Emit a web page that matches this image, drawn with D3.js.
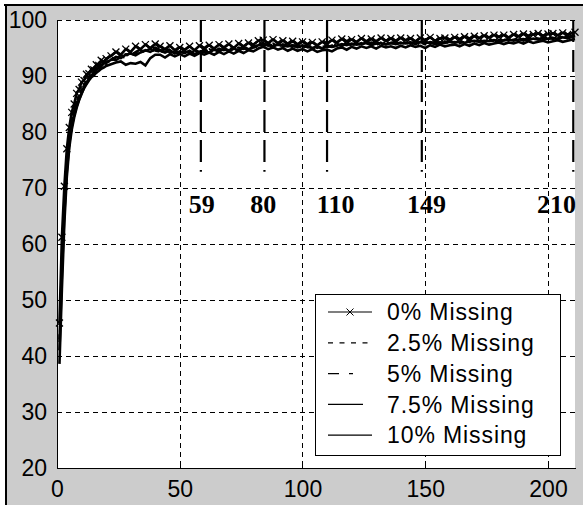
<!DOCTYPE html>
<html>
<head>
<meta charset="utf-8">
<script src="https://cdn.jsdelivr.net/npm/d3@7"></script>
<style>
  html, body { margin: 0; padding: 0; background: #fff; }
  svg { display: block; }
</style>
</head>
<body>
<div id="chart"></div>
<script>
// epochs (x) shared by every curve
const epochs = [
  1,2,3,4,5,6,7,8,9,10,
  11,12,13,14,15,16,17,18,19,20,
  22,24,26,28,30,32,34,36,38,40,
  42,44,46,48,50,52,54,56,58,60,
  62,64,66,68,70,72,74,76,78,80,
  82,84,86,88,90,92,94,96,98,100,
  102,104,106,108,110,112,114,116,118,120,
  122,124,126,128,130,132,134,136,138,140,
  142,144,146,148,150,152,154,156,158,160,
  162,164,166,168,170,172,174,176,178,180,
  182,184,186,188,190,192,194,196,198,200,
  202,204,206,208,211
];

const miss0 = [
  45.9,61.2,70.3,77.0,80.8,83.5,85.0,86.9,87.6,88.9,
  89.2,90.3,90.4,91.2,91.1,92.0,91.9,92.8,92.5,93.1,
  93.6,94.3,93.8,94.8,94.3,95.3,94.8,95.6,95.0,95.7,
  95.3,94.8,95.4,94.6,95.1,94.7,95.3,94.6,95.4,95.0,
  95.5,94.9,95.6,95.1,95.7,95.0,95.8,95.3,95.9,95.6,
  96.3,96.4,95.9,96.5,95.9,96.3,95.8,96.2,95.7,96.1,
  95.7,96.0,95.5,96.1,95.8,96.4,96.0,96.6,96.2,96.5,
  96.1,96.7,96.2,96.6,96.2,96.8,96.3,96.7,96.3,96.8,
  96.4,96.7,96.2,96.8,96.4,96.9,96.3,96.7,96.8,96.5,
  96.9,96.6,97.0,96.7,97.1,96.8,97.2,96.9,97.3,97.0,
  97.3,96.9,97.4,97.1,97.5,97.2,97.4,97.6,97.2,97.5,
  97.6,97.3,97.7,97.4,97.8
];
const miss25 = [
  43.0,57.5,67.8,74.6,79.0,82.0,84.1,85.3,86.8,87.6,
  88.5,89.1,89.9,90.2,90.8,91.0,91.6,91.7,92.2,92.3,
  92.8,93.1,93.7,93.5,94.2,94.0,94.6,94.4,94.9,94.5,
  94.3,94.8,94.1,94.6,93.9,94.4,94.0,94.6,94.2,94.7,
  94.4,94.9,94.5,95.0,94.6,95.1,94.7,95.2,94.8,95.0,
  95.6,95.3,95.8,95.4,95.7,95.2,95.6,95.1,95.5,95.0,
  95.4,94.9,95.3,95.0,95.4,95.1,95.6,95.3,95.8,95.5,
  95.9,95.6,96.0,95.7,95.5,96.0,95.7,96.1,95.8,96.0,
  95.7,96.1,95.8,96.0,95.6,96.1,95.9,95.7,96.2,95.9,
  96.1,95.8,96.3,96.0,96.2,96.4,96.1,96.5,96.2,96.4,
  96.6,96.3,96.5,96.7,96.4,96.8,96.5,96.7,96.6,96.9,
  96.6,96.9,97.0,96.7,97.2
];
const miss5 = [
  42.5,56.0,66.5,73.8,78.6,81.5,83.6,85.2,86.2,87.5,
  88.0,89.0,89.6,90.3,90.6,91.2,91.4,92.0,91.9,92.6,
  93.0,92.8,93.4,93.9,93.7,94.3,94.8,94.5,94.9,95.1,
  94.7,94.4,94.8,94.5,94.1,94.5,94.2,94.7,94.3,94.6,
  94.8,94.4,94.9,94.6,95.0,94.7,95.1,94.8,95.2,95.4,
  95.7,95.9,95.4,95.8,95.3,95.7,95.4,95.6,95.2,95.5,
  95.1,95.4,95.0,95.3,95.1,95.5,95.7,95.4,95.8,95.6,
  95.6,95.9,95.7,96.0,95.8,95.6,96.0,95.8,96.1,95.7,
  96.0,95.8,96.2,95.9,96.1,95.8,96.1,96.0,95.8,96.2,
  95.9,96.2,96.0,96.3,96.1,96.3,96.0,96.4,96.2,96.5,
  96.3,96.6,96.4,96.6,96.3,96.7,96.5,96.8,96.6,96.7,
  96.9,96.7,96.8,97.0,97.3
];
const miss75 = [
  41.0,54.8,65.5,73.0,77.9,81.0,83.0,84.6,85.8,86.9,
  87.8,88.5,89.2,89.8,90.1,90.6,90.9,91.3,91.5,91.8,
  92.1,92.4,92.6,92.0,92.3,92.2,92.5,91.9,93.2,93.8,
  93.8,93.3,93.9,93.5,93.9,93.5,94.0,93.6,94.1,93.8,
  94.2,93.8,94.3,93.9,94.4,94.0,94.5,94.1,94.6,94.4,
  94.9,95.2,94.8,95.1,94.7,95.0,94.5,94.9,94.5,94.8,
  94.4,94.8,94.3,94.6,94.7,94.4,94.9,95.1,94.7,95.2,
  94.9,95.3,95.0,95.3,94.9,95.4,95.1,95.3,95.0,95.4,
  95.1,95.5,95.2,95.4,95.0,95.5,95.2,95.6,95.3,95.5,
  95.6,95.3,95.7,95.4,95.8,95.5,95.9,95.6,95.8,96.0,
  95.7,96.0,95.8,96.1,95.8,96.2,95.9,96.1,96.3,96.0,
  96.2,96.4,96.1,96.3,96.6
];
const miss10 = [
  38.6,52.0,63.8,72.0,77.2,80.4,82.6,84.3,85.7,86.8,
  87.9,88.8,89.5,90.1,90.6,91.0,91.5,91.8,92.2,92.4,
  92.9,93.4,93.2,93.8,94.0,93.7,94.2,94.6,94.3,94.8,
  94.5,94.2,94.6,94.0,94.4,94.1,94.5,93.9,94.3,94.4,
  94.2,94.7,94.4,94.8,94.5,94.9,94.6,95.0,94.7,95.1,
  95.5,95.6,95.5,95.3,95.6,95.4,95.3,95.5,95.1,95.4,
  95.2,95.0,95.3,94.9,95.3,95.2,95.4,95.7,95.5,95.8,
  95.6,95.7,95.9,95.5,95.8,95.9,95.6,95.9,95.7,95.9,
  95.8,96.0,95.7,96.1,95.9,96.0,95.7,96.0,95.9,96.1,
  96.0,96.1,95.9,96.2,96.3,96.1,96.3,96.2,96.4,96.1,
  96.4,96.5,96.3,96.5,96.6,96.4,96.7,96.5,96.8,96.6,
  96.8,96.6,96.9,96.8,97.1
];

const seriesNames = ['0% Missing','2.5% Missing','5% Missing','7.5% Missing','10% Missing'];
// dash styles: as drawn in the plot, and as shown in the legend swatches
const seriesDash  = [null, '5,3', '11,4,4,4', null, null];
const legendDash  = [null, '5,6.5', '11,10,4,20', '35,20', null];
const seriesWidth = [2.6, 2.2, 2.2, 2.6, 2.6];

const xTicks = [0, 50, 100, 150, 200];
const yTicks = [20, 30, 40, 50, 60, 70, 80, 90, 100];

// vertical marker lines and their labels
const cutAt     = [58.6, 84.5, 110, 148.6, 210.3];
const cutLabels = ['59', '80', '110', '149', '210'];
const cutLabelX = [59, 84, 113.5, 150.5, 203.5];
const cutTop = 100, cutBottom = 72.9, cutLabelY = 65.5;

;(function(){
  const W = 583, H = 505;
  const margin = { top: 20, right: 8, bottom: 37, left: 57 };
  const w = W - margin.left - margin.right;
  const h = H - margin.top - margin.bottom;

  const root = d3.select('#chart').append('svg')
    .attr('width', W).attr('height', H);

  // window frame: grey figure with dark top/left edge
  root.append('rect').attr('width', W).attr('height', H).attr('fill', '#fff');
  root.append('rect').attr('x', 6).attr('y', 5).attr('width', W).attr('height', H).attr('fill', '#cccccc');
  root.append('line').attr('x1', 4).attr('x2', W).attr('y1', 5).attr('y2', 5)
    .attr('stroke', '#000').attr('stroke-width', 2);
  root.append('line').attr('x1', 6).attr('x2', 6).attr('y1', 4).attr('y2', H)
    .attr('stroke', '#000').attr('stroke-width', 2);

  const svg = root.append('g')
    .attr('transform', `translate(${margin.left},${margin.top})`);

  const x = d3.scaleLinear().domain([0, 211]).range([0, w]);
  const y = d3.scaleLinear().domain([20, 100]).range([h, 0]);

  svg.append('rect').attr('width', w).attr('height', h).attr('fill', '#fff');

  // dashed grid
  const grid = svg.append('g')
    .attr('stroke', '#000').attr('stroke-dasharray', '5,4')
    .attr('shape-rendering', 'crispEdges');
  grid.selectAll('.gy').data(yTicks.slice(1)).enter().append('line')
    .attr('x1', 0).attr('x2', w)
    .attr('y1', d => Math.round(y(d)) + 0.5).attr('y2', d => Math.round(y(d)) + 0.5);
  grid.selectAll('.gx').data(xTicks.slice(1)).enter().append('line')
    .attr('y1', 0).attr('y2', h)
    .attr('x1', d => Math.round(x(d)) + 0.5).attr('x2', d => Math.round(x(d)) + 0.5);

  // axes, ticks pointing inward
  const font = 'Arial, "Liberation Sans", sans-serif';
  const ax = svg.append('g')
    .attr('transform', `translate(0,${h})`)
    .call(d3.axisBottom(x).tickValues(xTicks).tickSizeInner(-4).tickSizeOuter(0).tickPadding(13));
  const ay = svg.append('g')
    .call(d3.axisLeft(y).tickValues(yTicks).tickSizeInner(-4).tickSizeOuter(0).tickPadding(10));
  [ax, ay].forEach(g => {
    g.attr('font-size', 23).attr('font-family', font).attr('shape-rendering', 'crispEdges');
    g.selectAll('text').attr('fill', '#000');
    g.selectAll('line, path').attr('stroke', '#000');
  });

  // curves
  const all = [miss0, miss25, miss5, miss75, miss10];
  const line = d3.line()
    .x((d, i) => x(epochs[i]))
    .y(d => y(d));

  const curves = svg.append('g');
  all.slice().reverse().forEach((vals, k) => {
    const i = all.length - 1 - k;
    curves.append('path')
      .datum(vals)
      .attr('d', line)
      .attr('fill', 'none')
      .attr('stroke', '#000')
      .attr('stroke-width', seriesWidth[i])
      .attr('stroke-dasharray', seriesDash[i]);
  });

  const cross = 'M-3.5,-3.5L3.5,3.5M-3.5,3.5L3.5,-3.5';
  curves.append('g').selectAll('path')
    .data(miss0)
    .enter().append('path')
      .attr('transform', (d, i) => `translate(${x(epochs[i])},${y(d)})`)
      .attr('d', cross)
      .attr('fill', 'none')
      .attr('stroke', '#000')
      .attr('stroke-width', 1.3);

  // marker lines
  svg.append('g').selectAll('line')
    .data(cutAt)
    .enter().append('line')
      .attr('x1', d => x(d)).attr('x2', d => x(d))
      .attr('y1', y(cutTop)).attr('y2', y(cutBottom))
      .attr('stroke', '#000').attr('stroke-width', 2.2)
      .attr('stroke-dasharray', '22,8');

  svg.append('g').selectAll('text')
    .data(cutLabels)
    .enter().append('text')
      .attr('x', (d, i) => x(cutLabelX[i]))
      .attr('y', y(cutLabelY))
      .attr('text-anchor', 'middle')
      .attr('font-family', '"Liberation Serif", "Times New Roman", serif')
      .attr('font-weight', 'bold')
      .attr('font-size', 26)
      .text(d => d);

  // legend
  const lg = root.append('g');
  lg.append('rect')
    .attr('x', 315.5).attr('y', 294.5).attr('width', 245).attr('height', 161)
    .attr('fill', '#fff').attr('stroke', '#000');
  const rows = lg.selectAll('.row')
    .data(seriesNames)
    .enter().append('g')
      .attr('transform', (d, i) => `translate(0,${312 + i * 30.8})`);
  rows.append('line')
    .attr('x1', 328).attr('x2', 372)
    .attr('stroke', '#000').attr('stroke-width', 1.2)
    .attr('stroke-dasharray', (d, i) => legendDash[i]);
  rows.filter((d, i) => i === 0).append('path')
    .attr('transform', 'translate(350,0)')
    .attr('d', cross).attr('stroke', '#000').attr('fill', 'none');
  rows.append('text')
    .attr('x', 387).attr('dy', '0.36em')
    .attr('font-family', font).attr('font-size', 23)
    .attr('letter-spacing', '0.9px')
    .text(d => d);
})();
</script>
</body>
</html>
